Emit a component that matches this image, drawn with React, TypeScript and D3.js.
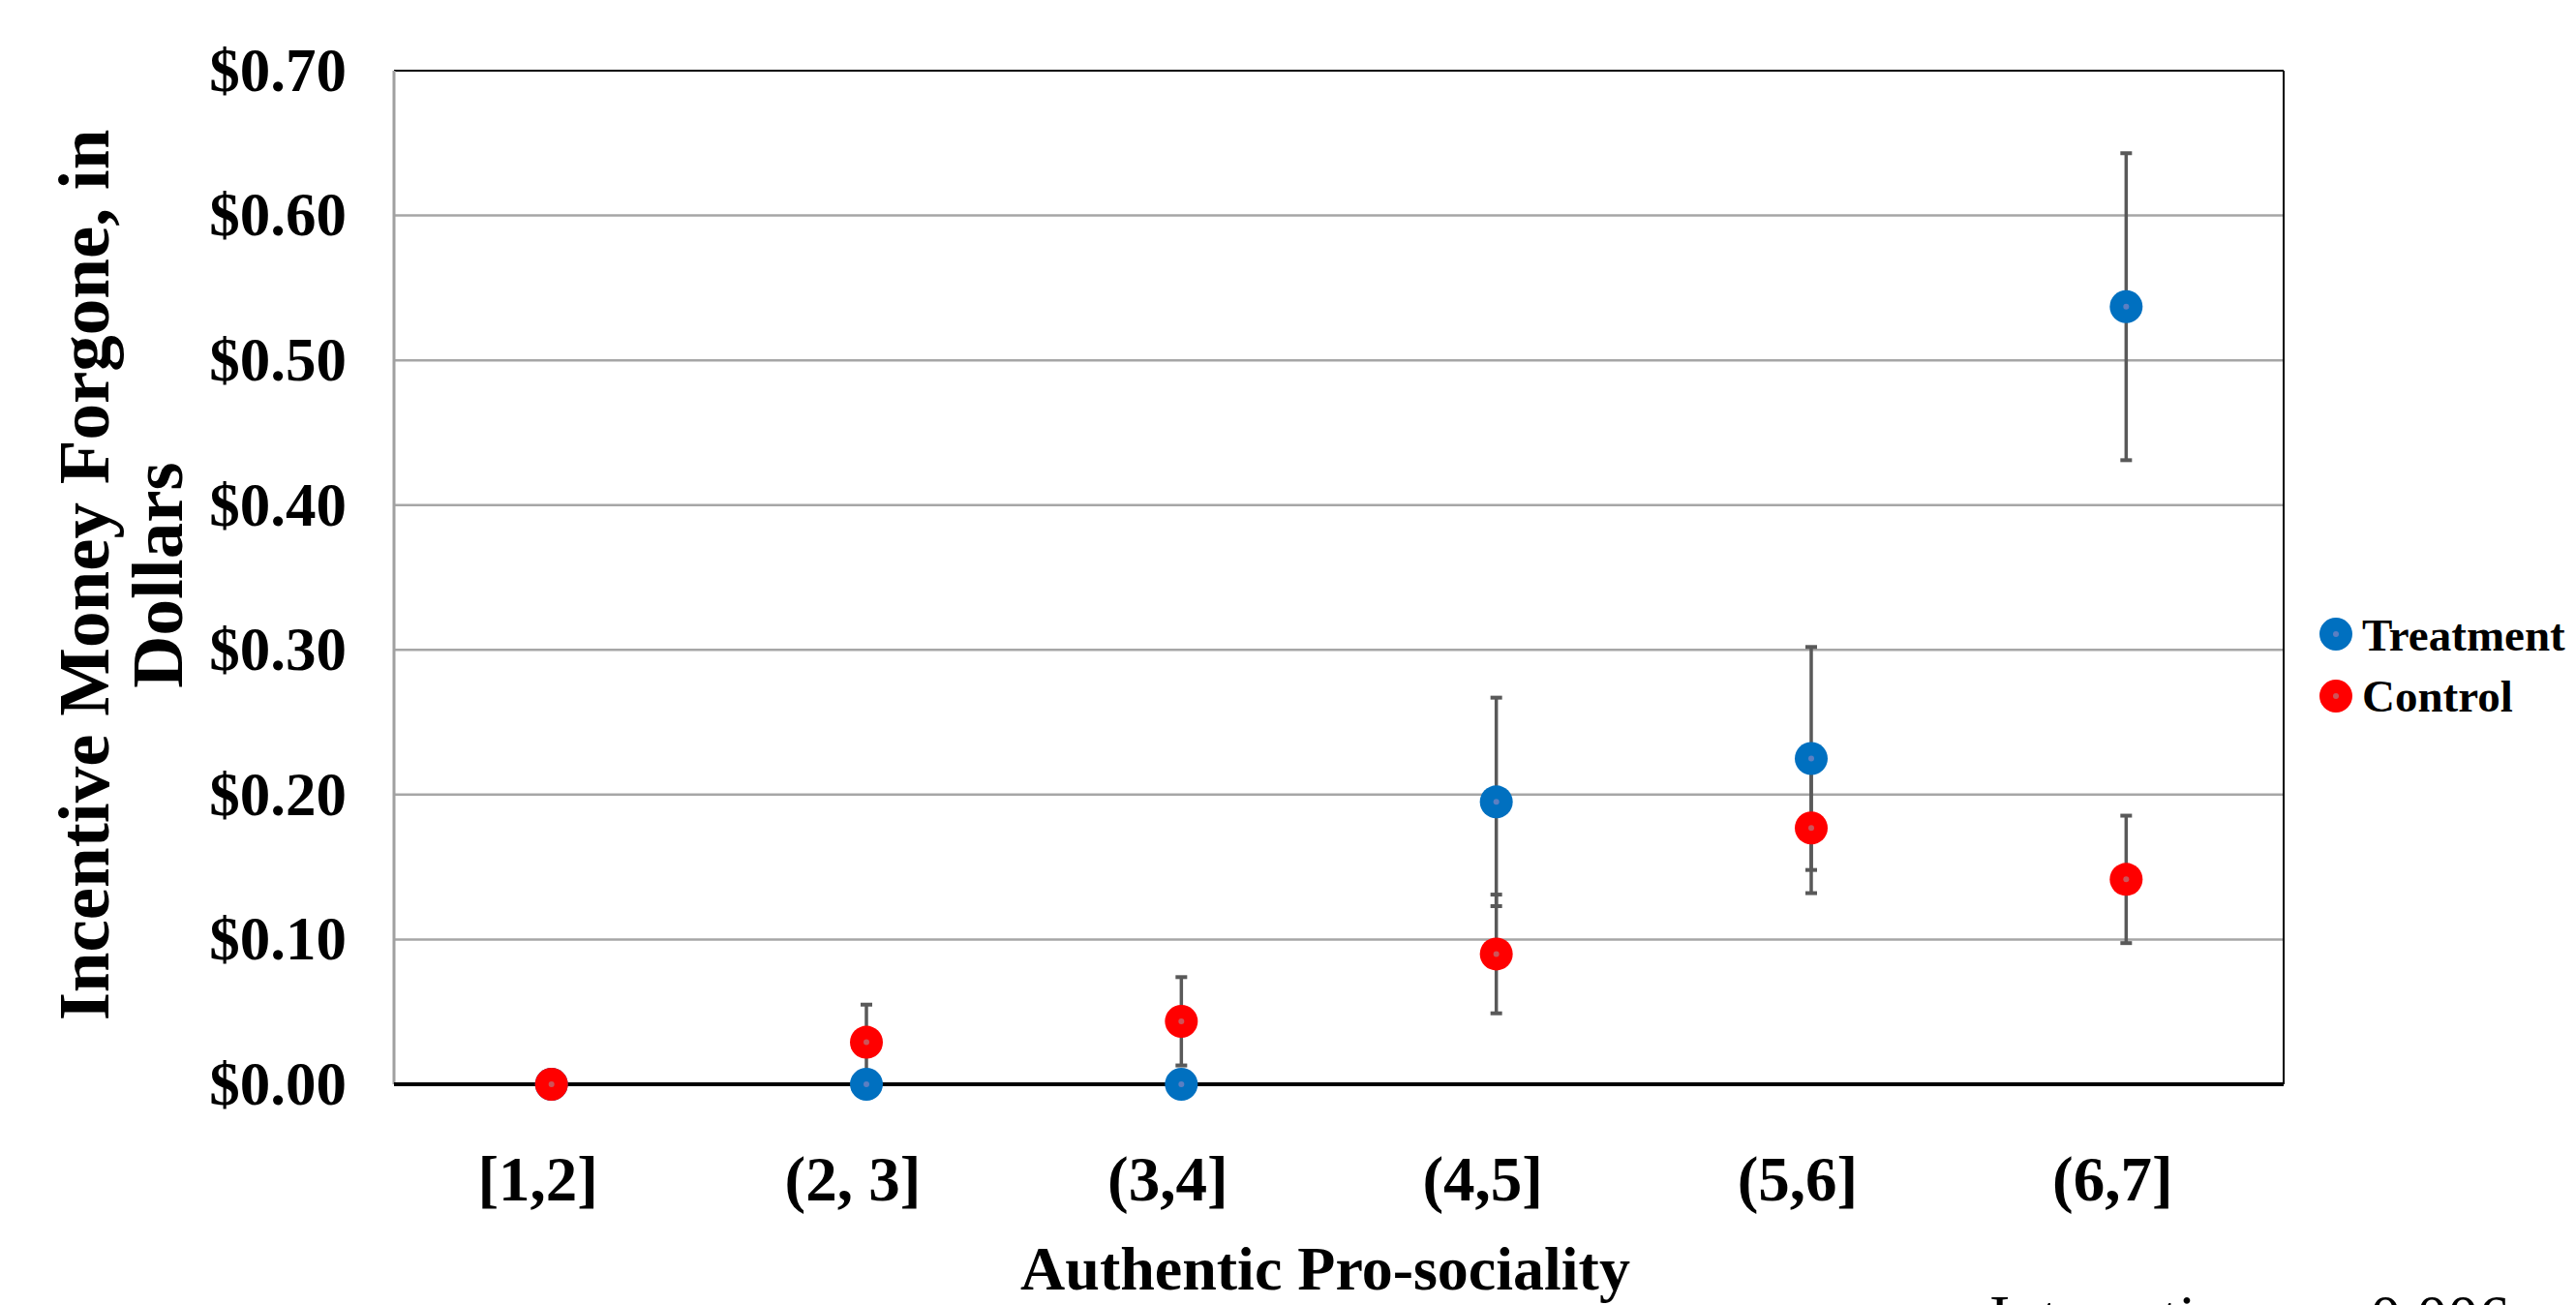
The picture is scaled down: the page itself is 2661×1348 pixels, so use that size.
import React from "react";
import * as d3 from "d3";

const categories = ["[1,2]", "(2, 3]", "(3,4]", "(4,5]", "(5,6]", "(6,7]"];
const treatmentValues = [0, 0, 0, 0.195, 0.225, 0.537];
const treatmentErrors = [0, 0, 0, 0.072, 0.077, 0.106];
const controlValues = [0, 0.029, 0.0435, 0.09, 0.177, 0.1415];
const controlErrors = [0, 0.026, 0.0305, 0.041, 0.045, 0.044];
const yTicks = [0, 0.1, 0.2, 0.3, 0.4, 0.5, 0.6, 0.7];
const seriesNames = ["Treatment", "Control"];

const W = 2661;
const H = 1348;
const left = 407;
const right = 2359;
const top = 73;
const bottom = 1120;
const FONT = "'Liberation Serif', 'Times New Roman', serif";

const colors = { Treatment: "#0070C0", Control: "#FF0000" };
const centerColors = { Treatment: "#5B7FC2", Control: "#CC5459" };

export default function App() {
  const x = d3.scaleBand<string>().domain(categories).range([left, right]).padding(0);
  const y = d3.scaleLinear().domain([0, 0.7]).range([bottom, top]);
  const fmt = d3.format("$.2f");
  const cx = (c: string) => (x(c) as number) + x.bandwidth() / 2;

  const series = [
    { name: "Treatment", values: treatmentValues, errors: treatmentErrors },
    { name: "Control", values: controlValues, errors: controlErrors },
  ];

  const R = 17;

  return (
    <svg
      width={W}
      height={H}
      style={{ position: "absolute", left: 0, top: 0, background: "#fff" }}
      fontFamily={FONT}
    >
      <rect x={0} y={0} width={W} height={H} fill="#fff" />
      {/* gridlines */}
      {yTicks.slice(1, -1).map((t) => (
        <line key={t} x1={left} x2={right} y1={y(t)} y2={y(t)} stroke="#a6a6a6" strokeWidth={2.5} />
      ))}
      {/* frame */}
      <line x1={left} x2={right} y1={top} y2={top} stroke="#000" strokeWidth={2} />
      <line x1={right} x2={right} y1={top} y2={bottom} stroke="#000" strokeWidth={2} />
      <line x1={left} x2={left} y1={top} y2={bottom} stroke="#a0a0a0" strokeWidth={3} />
      <line x1={left} x2={right} y1={bottom} y2={bottom} stroke="#000" strokeWidth={4} />

      {/* y tick labels */}
      {yTicks.map((t) => (
        <text key={t} x={358} y={y(t)} dy="0.33em" textAnchor="end" fontSize={63} fontWeight="bold">
          {fmt(t)}
        </text>
      ))}

      {/* x tick labels */}
      {categories.map((c) => (
        <text key={c} x={cx(c) - 14} y={1240} textAnchor="middle" fontSize={65} fontWeight="bold">
          {c}
        </text>
      ))}

      {/* axis titles */}
      <text x={1369} y={1332} textAnchor="middle" fontSize={64} fontWeight="bold">
        Authentic Pro-sociality
      </text>
      <text transform="translate(0,594) rotate(-90)" textAnchor="middle" fontSize={75} fontWeight="bold">
        <tspan x={0} y={112}>Incentive Money Forgone, in</tspan>
        <tspan x={0} y={188}>Dollars</tspan>
      </text>

      {/* error bars */}
      {series.map((s) =>
        categories.map((c, i) => {
          const e = s.errors[i];
          if (!e) return null;
          const v = s.values[i];
          const X = cx(c);
          return (
            <g key={s.name + c} stroke="#595959">
              <line x1={X} x2={X} y1={y(v + e)} y2={y(v - e)} strokeWidth={3.5} />
              <line x1={X - 6} x2={X + 6} y1={y(v + e)} y2={y(v + e)} strokeWidth={4} />
              <line x1={X - 6} x2={X + 6} y1={y(v - e)} y2={y(v - e)} strokeWidth={4} />
            </g>
          );
        })
      )}

      {/* markers */}
      {series.map((s) =>
        categories.map((c, i) => (
          <g key={"m" + s.name + c}>
            <circle cx={cx(c)} cy={y(s.values[i])} r={R} fill={(colors as any)[s.name]} />
            <circle cx={cx(c)} cy={y(s.values[i])} r={3} fill={(centerColors as any)[s.name]} />
          </g>
        ))
      )}

      {/* legend */}
      {seriesNames.map((n, i) => (
        <g key={n}>
          <circle cx={2413} cy={655 + i * 64} r={R} fill={(colors as any)[n]} />
          <circle cx={2413} cy={655 + i * 64} r={3} fill={(centerColors as any)[n]} />
          <text x={2440} y={672 + i * 63} fontSize={47} fontWeight="bold">
            {n}
          </text>
        </g>
      ))}

      {/* interaction note (cut off at bottom, as in the reference) */}
      <text x={2055} y={1382} fontSize={64}>
        Interaction <tspan fontStyle="italic">p</tspan> = 0.006
      </text>
    </svg>
  );
}
